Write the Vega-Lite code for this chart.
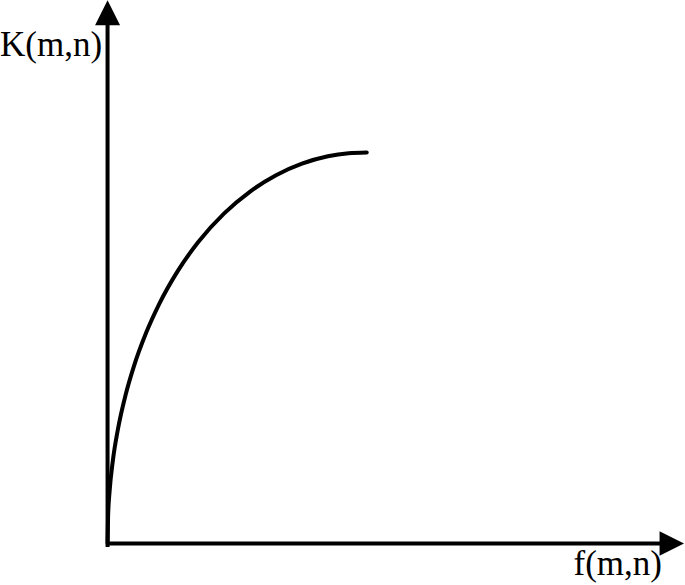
{
  "$schema": "https://vega.github.io/schema/vega-lite/v6.json",
  "width": 685,
  "height": 585,
  "autosize": {"type": "fit", "contains": "padding"},
  "padding": 0,
  "background": "white",
  "config": {"view": {"stroke": null}},
  "datasets": {
    "curve": [
      {"f": 0, "K": 0},
      {"f": 0.02, "K": 0.684},
      {"f": 0.08, "K": 1.344},
      {"f": 0.2, "K": 2.095},
      {"f": 0.4, "K": 2.922},
      {"f": 0.7, "K": 3.809},
      {"f": 1.0, "K": 4.497},
      {"f": 1.5, "K": 5.405},
      {"f": 2.0, "K": 6.134},
      {"f": 2.7, "K": 6.958},
      {"f": 3.5, "K": 7.708},
      {"f": 4.5, "K": 8.44},
      {"f": 5.5, "K": 8.998},
      {"f": 6.5, "K": 9.415},
      {"f": 7.5, "K": 9.711},
      {"f": 8.5, "K": 9.9},
      {"f": 9.3, "K": 9.979},
      {"f": 10, "K": 10}
    ],
    "axes": [
      {"x": 0, "y": -0.09, "x2": 0, "y2": 13.3},
      {"x": -0.04, "y": 0, "x2": 21.4, "y2": 0}
    ],
    "arrows": [
      {"x": 0, "y": 13.57, "dir": "up"},
      {"x": 21.77, "y": 0, "dir": "right"}
    ],
    "labels": [
      {"x": -4.15, "y": 12.47, "text": "K(m,n)"},
      {"x": 17.98, "y": -0.8, "text": "f(m,n)"}
    ]
  },
  "layer": [
    {
      "data": {"name": "axes"},
      "mark": {"type": "rule", "color": "black", "strokeWidth": 4},
      "encoding": {
        "x": {"field": "x", "type": "quantitative", "scale": {"domain": [-4.15, 22.28], "nice": false, "zero": false}, "axis": null},
        "y": {"field": "y", "type": "quantitative", "scale": {"domain": [-1.06, 13.87], "nice": false, "zero": false}, "axis": null},
        "x2": {"field": "x2"},
        "y2": {"field": "y2"}
      }
    },
    {
      "data": {"name": "curve"},
      "mark": {"type": "line", "color": "black", "strokeWidth": 4, "interpolate": "monotone", "strokeCap": "round"},
      "encoding": {
        "x": {"field": "f", "type": "quantitative", "scale": {"domain": [-4.15, 22.28], "nice": false, "zero": false}, "axis": null},
        "y": {"field": "K", "type": "quantitative", "scale": {"domain": [-1.06, 13.87], "nice": false, "zero": false}, "axis": null}
      }
    },
    {
      "data": {"name": "arrows"},
      "transform": [{"filter": "datum.dir == 'up'"}],
      "mark": {"type": "point", "shape": "M0,-1L1,1L-1,1Z", "filled": true, "color": "black", "opacity": 1, "size": 625, "strokeWidth": 0},
      "encoding": {
        "x": {"field": "x", "type": "quantitative", "scale": {"domain": [-4.15, 22.28], "nice": false, "zero": false}, "axis": null},
        "y": {"field": "y", "type": "quantitative", "scale": {"domain": [-1.06, 13.87], "nice": false, "zero": false}, "axis": null}
      }
    },
    {
      "data": {"name": "arrows"},
      "transform": [{"filter": "datum.dir == 'right'"}],
      "mark": {"type": "point", "shape": "M1,0L-1,-1L-1,1Z", "filled": true, "color": "black", "opacity": 1, "size": 600, "strokeWidth": 0},
      "encoding": {
        "x": {"field": "x", "type": "quantitative", "scale": {"domain": [-4.15, 22.28], "nice": false, "zero": false}, "axis": null},
        "y": {"field": "y", "type": "quantitative", "scale": {"domain": [-1.06, 13.87], "nice": false, "zero": false}, "axis": null}
      }
    },
    {
      "data": {"name": "labels"},
      "mark": {"type": "text", "font": "Liberation Serif", "fontSize": 35, "align": "left", "baseline": "alphabetic", "color": "black"},
      "encoding": {
        "x": {"field": "x", "type": "quantitative", "scale": {"domain": [-4.15, 22.28], "nice": false, "zero": false}, "axis": null},
        "y": {"field": "y", "type": "quantitative", "scale": {"domain": [-1.06, 13.87], "nice": false, "zero": false}, "axis": null},
        "text": {"field": "text"}
      }
    }
  ]
}
